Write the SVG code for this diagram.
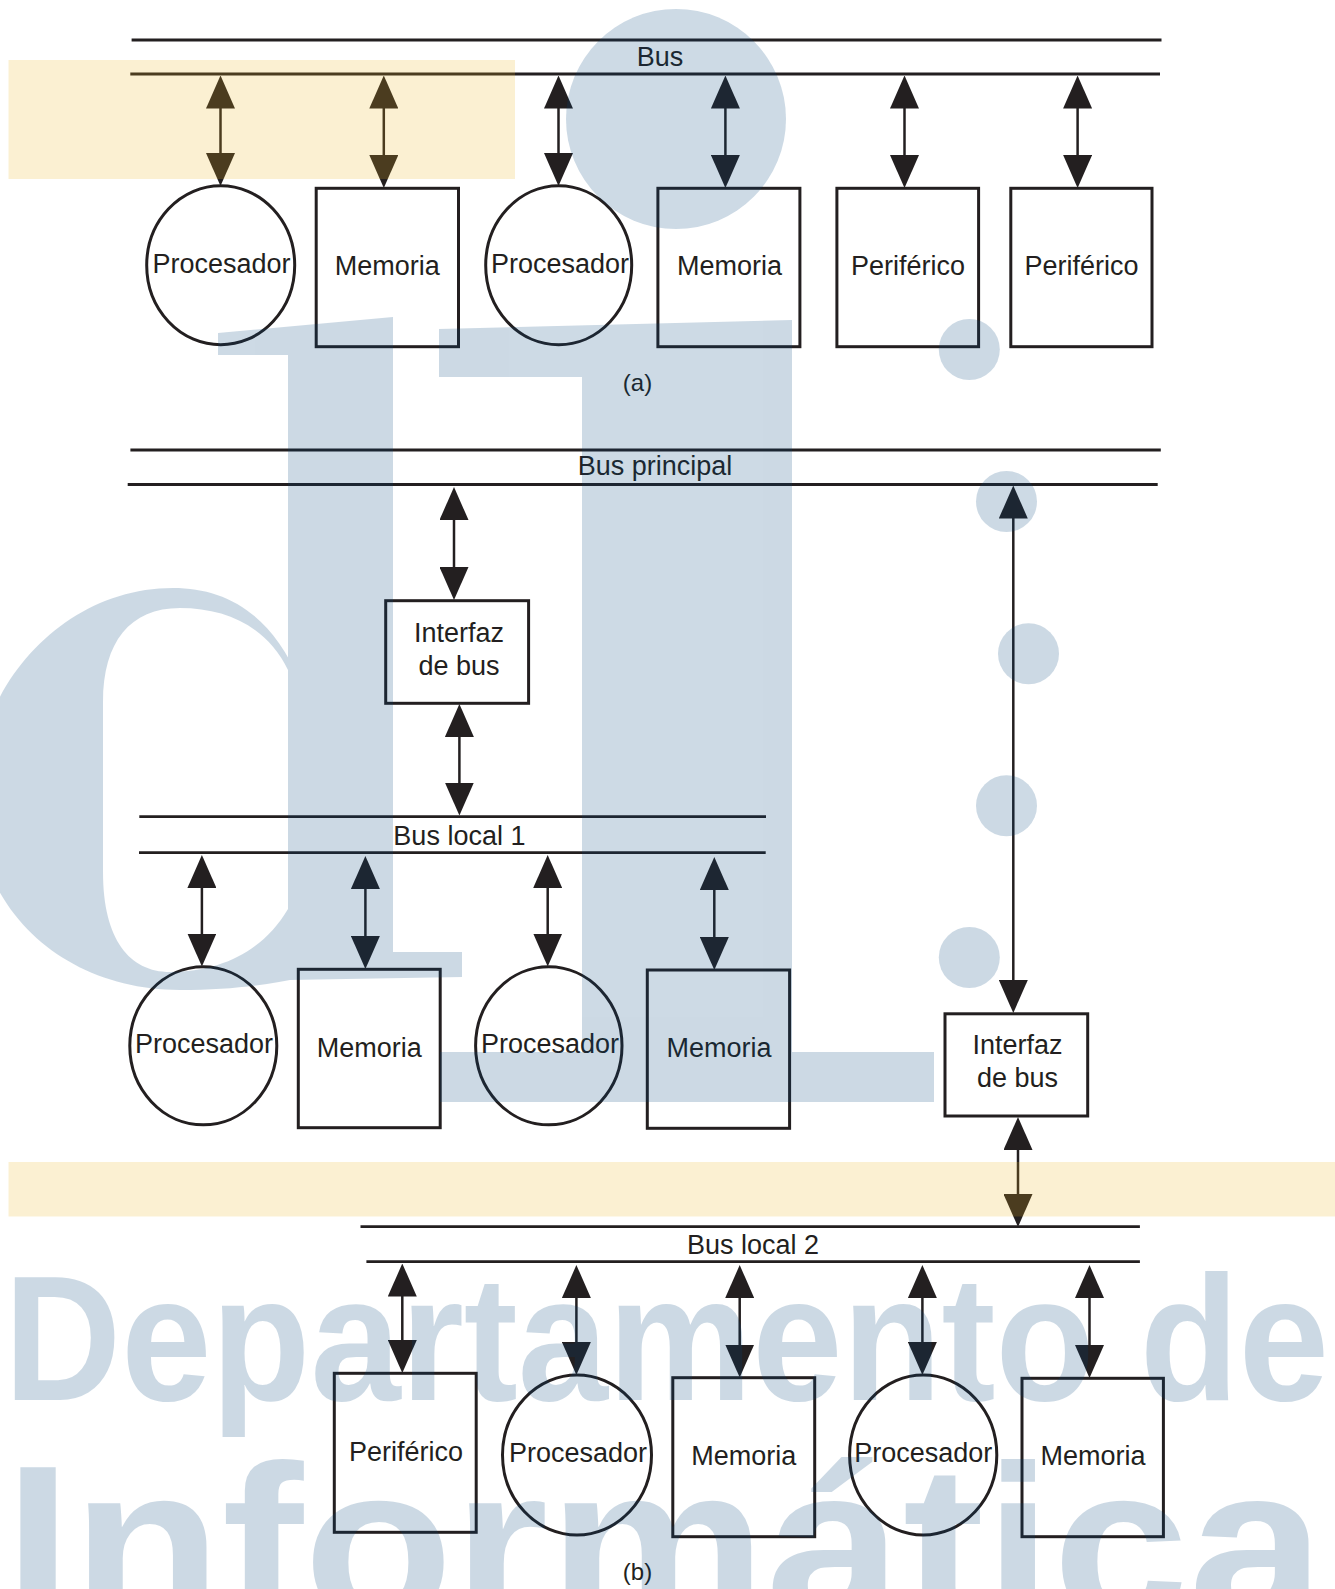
<svg xmlns="http://www.w3.org/2000/svg" width="1335" height="1589" viewBox="0 0 1335 1589">
<defs>
<marker id="ah" viewBox="0 0 33 29" markerWidth="33" markerHeight="29" refX="13" refY="14.5" orient="auto-start-reverse" markerUnits="userSpaceOnUse"><path d="M0,0 L33,14.5 L0,29 Z" fill="#231f20"/></marker>
</defs>
<style>
.ln{stroke:#231f20;stroke-width:2.8;fill:none}
.nd{stroke:#231f20;stroke-width:3;fill:none}
.ar{stroke:#231f20;stroke-width:2.5;fill:none;marker-start:url(#ah);marker-end:url(#ah)}
text{font-family:"Liberation Sans",Arial,sans-serif;font-size:27px;fill:#231f20;text-anchor:middle}
.cap{font-size:24px}
.wm{font-family:"Liberation Sans",Arial,sans-serif;font-weight:bold;text-anchor:start;fill:#05467d}
.wm1{font-size:179px}
.wm2{font-size:225px}
</style>
<rect width="1335" height="1589" fill="#ffffff"/>

<!-- buses -->
<g id="bus_a">
<line class="ln" x1="131.6" y1="40" x2="1161.5" y2="40"/>
<line class="ln" x1="130.3" y1="74" x2="1160" y2="74"/>
<text x="660" y="65.5">Bus</text>
</g>
<g id="bus_principal">
<line class="ln" x1="130.4" y1="450" x2="1160.8" y2="450"/>
<line class="ln" x1="127.7" y1="484.5" x2="1157.7" y2="484.5"/>
<text x="655" y="475">Bus principal</text>
</g>
<g id="bus_local1">
<line class="ln" x1="139.3" y1="816.7" x2="766" y2="816.7"/>
<line class="ln" x1="139" y1="852.7" x2="765.7" y2="852.7"/>
<text x="459.4" y="845">Bus local 1</text>
</g>
<g id="bus_local2">
<line class="ln" x1="360.5" y1="1226.7" x2="1139.9" y2="1226.7"/>
<line class="ln" x1="366.4" y1="1261.7" x2="1139.9" y2="1261.7"/>
<text x="753" y="1254">Bus local 2</text>
</g>

<!-- (a) nodes -->
<g id="a_proc1"><ellipse class="nd" cx="220.7" cy="265.3" rx="74" ry="79.5"/><text x="221.5" y="273">Procesador</text></g>
<g id="a_mem1"><rect class="nd" x="316.2" y="188.3" width="142.3" height="158.4"/><text x="387.3" y="275">Memoria</text></g>
<g id="a_proc2"><ellipse class="nd" cx="558.7" cy="265.3" rx="73" ry="79.5"/><text x="560" y="273">Procesador</text></g>
<g id="a_mem2"><rect class="nd" x="657.9" y="188.3" width="142" height="158.4"/><text x="729.5" y="275">Memoria</text></g>
<g id="a_per1"><rect class="nd" x="836.9" y="188.3" width="141.7" height="158.4"/><text x="908" y="275">Periférico</text></g>
<g id="a_per2"><rect class="nd" x="1010.8" y="188.3" width="141.2" height="158.4"/><text x="1081.4" y="275">Periférico</text></g>
<text class="cap" x="637.5" y="390.5">(a)</text>

<!-- (b) nodes -->
<g id="b_if1"><rect class="nd" x="385.7" y="600.7" width="142.9" height="102.6"/><text x="459" y="641.7">Interfaz</text><text x="459" y="675">de bus</text></g>
<g id="b1_proc1"><ellipse class="nd" cx="203.3" cy="1045.8" rx="73.5" ry="79"/><text x="204" y="1053">Procesador</text></g>
<g id="b1_mem1"><rect class="nd" x="298.3" y="969.3" width="141.9" height="158.4"/><text x="369.3" y="1057">Memoria</text></g>
<g id="b1_proc2"><ellipse class="nd" cx="548.8" cy="1045.8" rx="73.2" ry="79"/><text x="550" y="1053">Procesador</text></g>
<g id="b1_mem2"><rect class="nd" x="647.3" y="970" width="142.3" height="158.3"/><text x="719" y="1057">Memoria</text></g>
<g id="b_if2"><rect class="nd" x="945" y="1013.8" width="142.7" height="102.2"/><text x="1017.5" y="1054">Interfaz</text><text x="1017.5" y="1087.4">de bus</text></g>
<g id="b2_per"><rect class="nd" x="334.3" y="1373.3" width="141.9" height="159"/><text x="406" y="1461">Periférico</text></g>
<g id="b2_proc1"><ellipse class="nd" cx="577" cy="1455" rx="74.5" ry="80"/><text x="578" y="1462">Procesador</text></g>
<g id="b2_mem1"><rect class="nd" x="672.8" y="1377.7" width="141.9" height="159"/><text x="743.8" y="1465">Memoria</text></g>
<g id="b2_proc2"><ellipse class="nd" cx="923.2" cy="1455" rx="73.6" ry="80"/><text x="923.2" y="1462">Procesador</text></g>
<g id="b2_mem2"><rect class="nd" x="1022" y="1378.3" width="141.4" height="158.4"/><text x="1093" y="1465">Memoria</text></g>
<text class="cap" x="637.5" y="1580">(b)</text>

<!-- connectors -->
<g id="connectors">
<path class="ar" d="M220.5,95.5 V166"/>
<path class="ar" d="M383.8,95.5 V168"/>
<path class="ar" d="M558.5,95.5 V166"/>
<path class="ar" d="M725.4,95.5 V168"/>
<path class="ar" d="M904.5,95.5 V168"/>
<path class="ar" d="M1077.6,95.5 V168"/>
<path class="ar" d="M454,507 V580"/>
<path class="ar" d="M459.4,724 V795.5"/>
<path class="ar" d="M201.9,875 V946.5"/>
<path class="ar" d="M365.4,876 V949"/>
<path class="ar" d="M547.7,875 V946.5"/>
<path class="ar" d="M714.3,877 V950"/>
<path class="ar" d="M1013.3,505.5 V993"/>
<path class="ar" d="M1018,1137 V1207"/>
<path class="ar" d="M402.3,1283.5 V1353"/>
<path class="ar" d="M576.4,1285 V1355"/>
<path class="ar" d="M739.7,1285 V1357.5"/>
<path class="ar" d="M922.4,1285 V1355"/>
<path class="ar" d="M1089.5,1285 V1358"/>
</g>

<!-- background overlays -->
<g id="highlights" opacity="0.2" fill="#ebb41e">
<rect x="8.5" y="60" width="506.5" height="119"/>
<rect x="8.5" y="1162" width="1326.5" height="54.5"/>
</g>
<g id="watermark" opacity="0.2" fill="#05467d">
<path fill-rule="evenodd" d="M300,682 C272,614 226,588 173,588 C62,588 -25,688 -25,795 C-25,912 66,990 180,990 C232,990 272,984 300,978 Z M288,670 C268,628 228,608 180,608 C130,608 103,642 103,702 L103,872 C103,940 130,972 170,972 C222,972 264,950 288,909 Z"/>
<path d="M218,333 L393,317 L393,952 L462,952 L462,977 L288,980 L288,355 L218,355 Z"/>
<path d="M439,329 L792,320 L792,1052 L934,1052 L934,1102 L440,1102 L440,1052 L582,1052 L582,377 L439,377 Z"/>
<circle cx="676" cy="119" r="110"/>
<circle cx="969.3" cy="349.5" r="30.5"/>
<circle cx="1006.5" cy="501.5" r="30.5"/>
<circle cx="1028.5" cy="653.7" r="30.5"/>
<circle cx="1006.5" cy="805.7" r="30.5"/>
<circle cx="969.3" cy="957.5" r="30.5"/>
<text class="wm wm1" x="4" y="1400" textLength="1325" lengthAdjust="spacingAndGlyphs">Departamento de</text>
<text class="wm wm2" x="4" y="1622" textLength="1321" lengthAdjust="spacingAndGlyphs">Informática</text>
</g>
</svg>
